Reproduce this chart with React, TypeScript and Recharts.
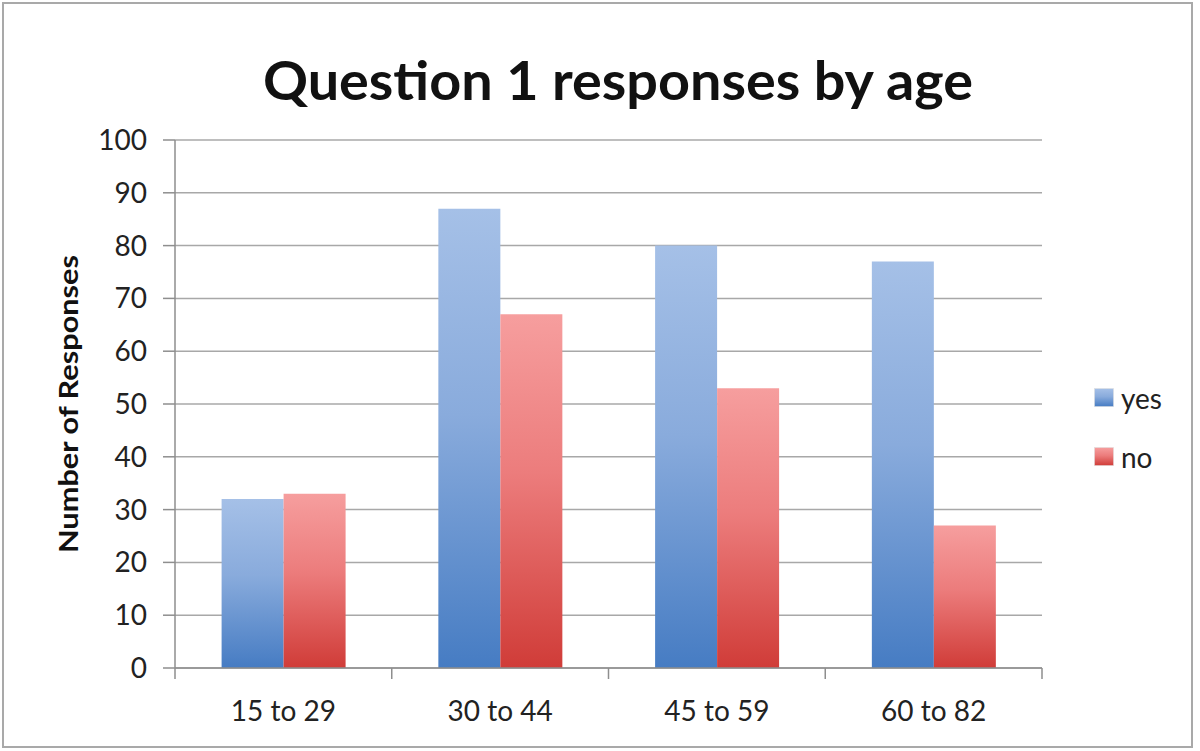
import { Bar, BarChart, CartesianGrid, Legend, XAxis, YAxis } from 'recharts'

const AGE_GROUPS = ['15 to 29', '30 to 44', '45 to 59', '60 to 82']
const YES_COUNTS = [32, 87, 80, 77]
const NO_COUNTS = [33, 67, 53, 27]
const Y_TICKS = [0, 10, 20, 30, 40, 50, 60, 70, 80, 90, 100]

const data = AGE_GROUPS.map((age, i) => ({ age, yes: YES_COUNTS[i], no: NO_COUNTS[i] }))

const FONT = 'Lato, "Open Sans", sans-serif'
const AXIS_GREY = '#8e8e8e'
const GRID_GREY = '#a8a8a8'

// Excel-style category axis: tick marks sit on the band boundaries, label in the middle
function CategoryTick(props: any) {
  const { x, y, payload, index } = props
  const half = payload.offset ?? 0
  const last = index === AGE_GROUPS.length - 1
  return (
    <g>
      <line x1={x - half} x2={x - half} y1={y} y2={y + 11} stroke={AXIS_GREY} strokeWidth={1.5} />
      {last ? <line x1={x + half} x2={x + half} y1={y} y2={y + 11} stroke={AXIS_GREY} strokeWidth={1.5} /> : null}
      <text x={x} y={y + 53} textAnchor="middle" fontSize={28} fill="#222" fontFamily={FONT}>
        {payload.value}
      </text>
    </g>
  )
}

function YLabel(props: any) {
  const vb = props.viewBox ?? { x: 0, y: 140, width: 175, height: 528 }
  const cx = vb.x + 67
  const cy = vb.y + vb.height / 2
  return (
    <text
      x={cx}
      y={cy}
      transform={`rotate(-90, ${cx}, ${cy})`}
      textAnchor="middle"
      dominantBaseline="central"
      fontFamily={FONT}
      fontWeight={700}
      fontSize={27}
      fill="#111"
      textLength={298}
      lengthAdjust="spacingAndGlyphs"
    >
      Number of Responses
    </text>
  )
}

function LegendBox() {
  const items = [
    { label: 'yes', grad: 'url(#gradYes)' },
    { label: 'no', grad: 'url(#gradNo)' },
  ]
  return (
    <div style={{ fontFamily: FONT }}>
      {items.map((it) => (
        <div key={it.label} style={{ display: 'flex', alignItems: 'center', height: 59 }}>
          <svg width={20} height={19} style={{ marginRight: 7 }}>
            <rect x={0.5} y={0.5} width={19} height={18} fill={it.grad} stroke="#ddd" strokeWidth={0.5} />
          </svg>
          <span style={{ fontSize: 28, color: '#222' }}>{it.label}</span>
        </div>
      ))}
    </div>
  )
}

export default function App() {
  return (
    <div
      style={{
        position: 'absolute',
        left: 0,
        top: 0,
        width: 1200,
        height: 751,
        background: '#fff',
        overflow: 'hidden',
      }}
    >
      <div
        style={{
          position: 'absolute',
          left: 2,
          top: 2,
          width: 1191,
          height: 746,
          boxSizing: 'border-box',
          border: '2px solid #a9a9a9',
        }}
      />
      <svg width={1200} height={120} style={{ position: 'absolute', left: 0, top: 0 }}>
        <text
          x={618}
          y={100}
          textAnchor="middle"
          fontFamily={FONT}
          fontWeight={700}
          fontSize={53}
          fill="#111"
          textLength={710}
          lengthAdjust="spacingAndGlyphs"
        >
          Question 1 responses by age
        </text>
      </svg>
      <BarChart
        width={1200}
        height={751}
        data={data}
        margin={{ top: 140, right: 58, bottom: 43, left: 0 }}
        barCategoryGap="21.5%"
        barGap={0}
      >
        <defs>
          <linearGradient id="gradYes" x1="0" y1="0" x2="0" y2="1">
            <stop offset="0%" stopColor="#a5c0e7" />
            <stop offset="45%" stopColor="#89abdc" />
            <stop offset="100%" stopColor="#467cc3" />
          </linearGradient>
          <linearGradient id="gradNo" x1="0" y1="0" x2="0" y2="1">
            <stop offset="0%" stopColor="#f69e9e" />
            <stop offset="45%" stopColor="#ec7c7c" />
            <stop offset="100%" stopColor="#d03c38" />
          </linearGradient>
        </defs>
        <CartesianGrid vertical={false} stroke={GRID_GREY} strokeWidth={1.5} />
        <XAxis
          dataKey="age"
          interval={0}
          height={40}
          tickSize={0}
          tickMargin={0}
          tickLine={false}
          axisLine={{ stroke: AXIS_GREY, strokeWidth: 1.5 }}
          tick={<CategoryTick />}
        />
        <YAxis
          domain={[0, 100]}
          ticks={Y_TICKS}
          interval={0}
          width={175}
          tickSize={12}
          tickMargin={16}
          tick={{ fontSize: 28, fill: '#222', fontFamily: FONT }}
          tickLine={{ stroke: AXIS_GREY, strokeWidth: 1.5 }}
          axisLine={{ stroke: AXIS_GREY, strokeWidth: 1.5 }}
          label={{ content: <YLabel /> }}
        />
        <Legend
          layout="vertical"
          align="right"
          verticalAlign="top"
          wrapperStyle={{ left: 1094, top: 368, width: 100 }}
          content={<LegendBox />}
        />
        <Bar dataKey="yes" fill="url(#gradYes)" isAnimationActive={false} />
        <Bar dataKey="no" fill="url(#gradNo)" isAnimationActive={false} />
      </BarChart>
    </div>
  )
}
